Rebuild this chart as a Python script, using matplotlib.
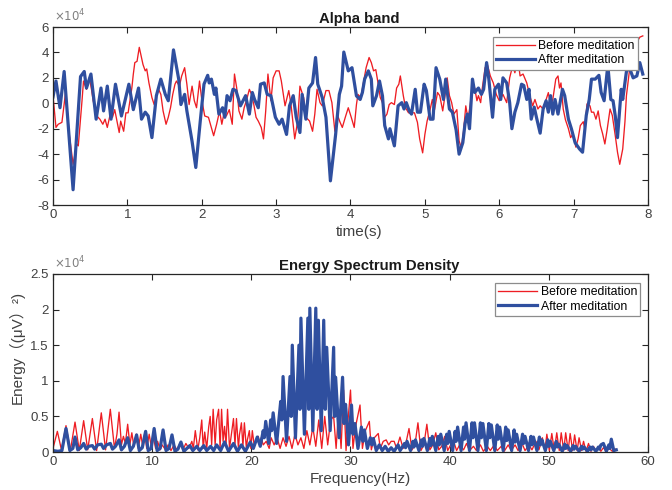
import matplotlib
matplotlib.use("Agg")
import matplotlib.pyplot as plt

plt.rcParams['font.family'] = ['Liberation Sans', 'Noto Sans CJK SC', 'DejaVu Sans']
plt.rcParams['axes.unicode_minus'] = False

# ---------------- data: Alpha band (values in units of 1e4) ----------------
t_before = [0.0, 0.04, 0.07, 0.12, 0.17, 0.22, 0.27, 0.32, 0.34, 0.39, 0.41, 0.45, 0.49, 0.52, 0.54,
            0.59, 0.63, 0.67, 0.70, 0.73, 0.77, 0.80, 0.83, 0.86, 0.89, 0.91, 0.95, 0.98, 1.01, 1.06,
            1.08, 1.10, 1.13, 1.16, 1.18, 1.21, 1.24, 1.26, 1.29, 1.33, 1.36, 1.39, 1.42, 1.45, 1.48,
            1.52, 1.55, 1.58, 1.61, 1.64, 1.66, 1.70, 1.73, 1.77, 1.80, 1.83, 1.87, 1.90, 1.93, 1.97,
            2.00, 2.04, 2.09, 2.16, 2.20, 2.24, 2.27, 2.30, 2.33, 2.37, 2.41, 2.44, 2.47, 2.50, 2.54,
            2.57, 2.60, 2.64, 2.67, 2.70, 2.73, 2.76, 2.80, 2.83, 2.86, 2.89, 2.93, 2.96, 3.00, 3.04,
            3.07, 3.12, 3.17, 3.20, 3.25, 3.29, 3.32, 3.37, 3.40, 3.45, 3.49, 3.52, 3.55, 3.59, 3.62,
            3.67, 3.71, 3.75, 3.79, 3.82, 3.86, 3.89, 3.93, 3.97, 4.01, 4.05, 4.08, 4.10, 4.14, 4.17,
            4.21, 4.25, 4.28, 4.31, 4.34, 4.37, 4.40, 4.43, 4.46, 4.49, 4.52, 4.55, 4.59, 4.62, 4.65,
            4.67, 4.71, 4.74, 4.78, 4.82, 4.86, 4.90, 4.93, 4.97, 5.00, 5.03, 5.07, 5.10, 5.13, 5.17,
            5.20, 5.24, 5.27, 5.30, 5.33, 5.36, 5.39, 5.43, 5.46, 5.49, 5.52, 5.55, 5.58, 5.61, 5.64,
            5.67, 5.70, 5.72, 5.75, 5.77, 5.81, 5.84, 5.88, 5.92, 5.96, 6.00, 6.05, 6.10, 6.14, 6.18,
            6.21, 6.25, 6.28, 6.32, 6.37, 6.41, 6.45, 6.48, 6.52, 6.55, 6.59, 6.63, 6.66, 6.69, 6.72,
            6.76, 6.79, 6.81, 6.83, 6.86, 6.89, 6.93, 6.96, 6.99, 7.03, 7.06, 7.09, 7.13, 7.15, 7.18,
            7.22, 7.24, 7.27, 7.30, 7.33, 7.36, 7.39, 7.42, 7.45, 7.49, 7.52, 7.56, 7.59, 7.62, 7.66,
            7.69, 7.71, 7.75, 7.80, 7.84, 7.89, 7.93]
v_before = [0.6, -1.9, -1.65, -1.5, 0.9, -2.5, -4.8, -3.2, -3.35, 0.2, 1.75, 1.1, 2.0, 1.0, 0.2,
            -1.0, -1.25, -1.65, -1.25, -1.9, -0.85, -1.1, -0.5, -1.4, -2.3, -1.4, -2.2, -0.75, -0.75, 1.2,
            2.3, 3.2, 3.3, 4.4, 3.85, 3.05, 2.55, 2.7, 1.6, 0.45, -0.1, 0.6, 1.1, 0.7, -0.6,
            -1.65, -1.1, -0.35, 0.7, 1.5, 1.75, 1.35, 2.15, 2.8, 1.5, -0.1, 1.35, 0.2, -0.35, 1.75,
            0.3, -1.0, -1.1, -2.55, -1.65, -0.6, -1.65, -0.75, -1.0, -0.5, -1.65, 2.3, 1.2, -0.6, -1.25,
            -0.35, 0.2, 1.1, 0.7, -0.1, -1.1, -1.4, -1.9, -2.8, -0.6, 2.3, 0.2, 2.0, 2.55, 2.55,
            1.75, -0.2, 1.0, -0.1, -2.8, -1.4, 1.35, 0.45, -1.1, -1.4, -2.2, -0.85, 1.1, 0.05, -0.2,
            1.0, 1.0, 0.05, -2.2, -0.85, -1.5, -1.9, -1.1, -0.35, -1.1, -1.9, -0.1, 0.7, 0.45, 1.5,
            2.8, 3.6, 3.2, 2.55, 2.65, 1.6, 0.45, 0.05, -1.1, -0.85, -0.1, 0.05, -0.1, 1.2, 1.5,
            2.15, 0.6, -0.35, -0.75, -0.75, -0.75, -1.5, -2.8, -3.9, -2.45, -1.4, -0.5, 0.3, -0.5, 0.85,
            0.6, -0.6, 0.6, 2.0, 0.6, 0.05, -0.85, -0.5, -2.95, -3.5, -2.2, -0.2, -1.25, -0.1, 1.5,
            1.2, 0.2, 0.6, 0.05, 1.1, 2.8, 3.05, 2.15, 1.6, 0.7, 0.2, 0.7, 0.05, 2.0, 2.95,
            2.4, 3.5, 2.15, 2.3, 1.6, 0.6, -0.2, 0.3, -0.45, -0.2, -0.45, 0.3, 0.84, -0.2, 0.3,
            1.9, 2.15, 1.2, 1.6, -0.45, -1.3, -2.0, -2.7, -2.4, -3.45, -2.8, -1.75, -1.45, -2.0, -0.05,
            -0.2, -0.7, -0.7, -1.25, -0.6, -1.75, -2.4, -3.2, -2.1, -0.45, -0.95, -2.55, -3.85, -4.8, -3.6,
            -1.45, 0.6, 2.55, 3.5, 4.7, 5.2, 5.3]

t_after = [0.0, 0.04, 0.094, 0.15, 0.27, 0.37, 0.42, 0.45, 0.51, 0.58, 0.645, 0.68, 0.73, 0.78, 0.84,
           0.92, 1.02, 1.08, 1.15, 1.19, 1.24, 1.28, 1.33, 1.39, 1.45, 1.51, 1.55, 1.62, 1.69, 1.72,
           1.77, 1.80, 1.87, 1.92, 1.98, 2.03, 2.08, 2.10, 2.13, 2.17, 2.19, 2.23, 2.28, 2.31, 2.34,
           2.38, 2.42, 2.46, 2.52, 2.59, 2.64, 2.68, 2.71, 2.76, 2.79, 2.84, 2.88, 2.93, 2.99, 3.04,
           3.08, 3.14, 3.18, 3.23, 3.27, 3.32, 3.35, 3.40, 3.44, 3.49, 3.53, 3.56, 3.62, 3.67, 3.73,
           3.80, 3.85, 3.88, 3.91, 3.97, 4.02, 4.08, 4.13, 4.16, 4.19, 4.24, 4.28, 4.30, 4.35, 4.39,
           4.43, 4.46, 4.51, 4.53, 4.59, 4.64, 4.69, 4.72, 4.75, 4.79, 4.82, 4.87, 4.90, 4.94, 4.99,
           5.02, 5.07, 5.11, 5.15, 5.20, 5.25, 5.28, 5.33, 5.37, 5.42, 5.46, 5.51, 5.54, 5.57, 5.60,
           5.64, 5.67, 5.72, 5.76, 5.79, 5.83, 5.86, 5.91, 5.94, 5.99, 6.02, 6.05, 6.10, 6.14, 6.17,
           6.21, 6.25, 6.30, 6.33, 6.37, 6.40, 6.43, 6.47, 6.50, 6.55, 6.59, 6.63, 6.66, 6.69, 6.72,
           6.75, 6.79, 6.85, 6.88, 6.93, 6.97, 7.02, 7.05, 7.08, 7.12, 7.17, 7.21, 7.24, 7.29, 7.34,
           7.37, 7.41, 7.46, 7.50, 7.53, 7.56, 7.59, 7.64, 7.66, 7.71, 7.75, 7.80, 7.85, 7.89, 7.93]
v_after = [0.5, 1.75, -0.35, 2.5, -6.8, 2.1, 2.5, 1.2, 2.3, -1.25, 1.2, -0.6, 1.35, -1.25, 1.5,
           -1.0, 1.5, -0.5, 1.2, -1.25, -0.7, -1.0, -2.7, 0.6, 1.9, 0.7, 0.2, 4.2, 1.9, -0.1,
           0.7, -0.6, -3.0, -5.05, -1.4, 1.5, 2.2, 1.6, 1.9, 0.7, 1.2, -0.85, -0.35, -1.1, 0.6,
           0.2, 1.1, 1.0, -0.2, 0.6, -0.85, 0.85, 0.3, -0.35, 1.5, 1.6, 0.7, 0.6, -1.1, -1.65,
           -1.25, -2.45, -0.2, 0.6, -1.1, -2.3, 0.7, -1.25, 1.2, 1.6, 3.6, 1.5, 0.45, -1.1, -6.1,
           -2.45, 0.7, 1.35, 4.03, 2.55, 2.8, 0.58, 0.3, 0.85, 1.9, 2.55, 1.9, -0.2, 0.6, 1.75,
           0.58, -1.75, -2.8, -2.0, -3.35, -0.2, 0.05, -0.45, 0.05, -0.6, -0.85, 1.1, -0.7, -0.7, 1.5,
           1.0, -1.25, -1.25, 2.8, 1.9, 0.3, 1.9, -0.45, -0.7, -2.1, -4.0, -3.1, -1.6, -0.85, -2.0,
           1.9, 0.85, 1.2, 0.7, 1.1, 3.2, 1.9, -1.1, 1.1, 1.5, 0.3, 2.0, 1.6, 0.05, -2.0,
           -0.7, 0.05, 1.5, 1.4, 0.3, 1.1, -1.25, -0.3, -1.1, -2.35, -0.45, 0.2, -0.7, 0.6, -0.85,
           0.3, -0.85, 1.1, 0.6, -1.25, -2.0, -3.1, -3.35, -3.6, -3.85, -0.95, 0.3, 1.9, 1.9, 2.2,
           0.85, 0.2, 3.0, 0.3, 0.2, -1.0, -2.7, 1.1, 0.3, 2.5, 2.8, 2.0, 2.15, 3.2, 2.3]

# ---------------- data: Energy Spectrum Density (values in units of 1e4) ----------------
f_before = [0.0, 0.44, 0.85, 1.31, 1.75, 2.22, 2.65, 3.09, 3.5, 3.97, 4.4, 4.87, 5.3, 5.78, 6.2,
            6.45, 6.66, 6.9, 7.1, 7.3, 7.53, 7.75, 7.95, 8.15, 8.4, 8.6, 8.85, 9.05, 9.25, 9.45,
            9.7, 9.9, 10.1, 10.35, 10.55, 10.8, 11.0, 11.4, 11.6, 11.9, 12.2, 12.5, 12.8, 13.1, 13.4,
            13.7, 14.0, 14.15, 14.35, 14.6, 14.8, 15.0, 15.15, 15.3, 15.5, 15.7, 15.85, 16.0, 16.15, 16.35,
            16.5, 16.7, 16.85, 17.0, 17.15, 17.3, 17.45, 17.6, 17.8, 18.0, 18.2, 18.35, 18.5, 18.7, 18.8,
            19.0, 19.15, 19.3, 19.5, 19.6, 19.8, 19.95, 20.1, 20.3, 20.45, 20.7, 20.85, 21.0, 21.2, 21.5,
            21.8, 22.0, 22.3, 22.6, 22.9, 23.2, 23.5, 23.8, 24.1, 24.4, 24.7, 25.0, 25.3, 25.6, 25.9,
            26.2, 26.5, 26.8, 27.1, 27.4, 27.7, 28.0, 28.3, 28.55, 28.8, 29.05, 29.3, 29.55, 29.75, 30.0,
            30.25, 30.5, 30.96, 31.2, 31.5, 31.9, 32.1, 32.4, 32.8, 33.0, 33.3, 33.6, 33.85, 34.1, 34.4,
            34.65, 34.99, 35.3, 35.55, 35.9, 36.2, 36.5, 36.8, 37.1, 37.4, 37.7, 38.0, 38.3, 38.6, 38.9,
            39.2, 39.5, 39.8, 40.1, 40.4, 40.7, 41.0, 41.4, 41.7, 42.0, 42.4, 42.7, 43.1, 43.4, 43.8,
            44.1, 44.5, 44.8, 45.2, 45.5, 45.9, 46.2, 46.6, 46.9, 47.3, 47.6, 48.0, 48.3, 48.7, 49.0,
            49.35, 49.6, 49.8, 50.05, 50.3, 50.55, 50.8, 51.05, 51.25, 51.5, 51.7, 51.95, 52.15, 52.4, 52.6,
            52.85, 53.05, 53.3, 53.5, 53.75, 54.0, 54.25, 54.5, 54.75, 55.0, 55.25, 55.5, 55.8, 56.1, 56.4,
            56.7]
e_before = [0.05, 0.29, 0.03, 0.37, 0.02, 0.42, 0.02, 0.44, 0.03, 0.47, 0.02, 0.55, 0.03, 0.6, 0.05,
            0.25, 0.56, 0.1, 0.22, 0.12, 0.39, 0.1, 0.27, 0.08, 0.25, 0.05, 0.25, 0.08, 0.26, 0.05,
            0.25, 0.08, 0.22, 0.05, 0.15, 0.03, 0.1, 0.02, 0.1, 0.02, 0.1, 0.03, 0.12, 0.03, 0.12,
            0.05, 0.15, 0.05, 0.3, 0.03, 0.2, 0.45, 0.05, 0.28, 0.05, 0.35, 0.5, 0.1, 0.6, 0.1,
            0.45, 0.6, 0.05, 0.6, 0.15, 0.36, 0.1, 0.6, 0.05, 0.26, 0.47, 0.1, 0.47, 0.05, 0.24,
            0.41, 0.08, 0.41, 0.05, 0.17, 0.3, 0.05, 0.3, 0.08, 0.15, 0.22, 0.1, 0.2, 0.1, 0.15,
            0.05, 0.2, 0.1, 0.2, 0.05, 0.2, 0.08, 0.22, 0.05, 0.25, 0.1, 0.2, 0.05, 0.3, 0.1,
            0.35, 0.08, 0.45, 0.05, 0.5, 0.1, 0.45, 0.5, 0.05, 0.6, 0.05, 0.87, 0.02, 0.45, 0.87,
            0.05, 0.35, 0.66, 0.05, 0.3, 0.43, 0.03, 0.2, 0.26, 0.05, 0.15, 0.17, 0.1, 0.15, 0.15,
            0.05, 0.21, 0.05, 0.1, 0.33, 0.03, 0.1, 0.41, 0.02, 0.1, 0.39, 0.03, 0.1, 0.27, 0.03,
            0.08, 0.22, 0.02, 0.1, 0.15, 0.02, 0.1, 0.03, 0.12, 0.02, 0.08, 0.02, 0.1, 0.01, 0.08,
            0.02, 0.1, 0.02, 0.08, 0.01, 0.1, 0.02, 0.1, 0.02, 0.12, 0.02, 0.1, 0.03, 0.15, 0.03,
            0.2, 0.02, 0.25, 0.02, 0.26, 0.02, 0.27, 0.02, 0.27, 0.02, 0.27, 0.02, 0.26, 0.02, 0.24,
            0.02, 0.2, 0.02, 0.15, 0.01, 0.12, 0.01, 0.08, 0.01, 0.07, 0.01, 0.06, 0.01, 0.05, 0.01,
            0.04]

f_after = [0.0, 0.5, 0.9, 1.31, 1.7, 2.0, 2.22, 2.5, 2.8, 3.09, 3.35, 3.6, 3.97, 4.2, 4.5,
           4.87, 5.1, 5.4, 5.78, 6.0, 6.3, 6.66, 6.9, 7.2, 7.53, 7.8, 8.1, 8.43, 8.7, 9.0,
           9.34, 9.6, 9.9, 10.2, 10.5, 10.8, 11.1, 11.4, 11.7, 12.0, 12.3, 12.6, 12.9, 13.2, 13.5,
           13.8, 14.1, 14.5, 14.8, 15.2, 15.5, 15.9, 16.2, 16.5, 16.9, 17.3, 17.7, 18.2, 18.6, 19.0,
           19.4, 19.9,
           20.2, 20.6, 20.9, 21.2, 21.3, 21.45, 21.75, 21.95, 22.05, 22.2, 22.55, 22.96, 23.08, 23.2, 23.55,
           23.9, 24.02, 24.13, 24.45, 24.8, 24.9, 25.0, 25.35, 25.7, 25.8, 25.9, 26.2, 26.5, 26.63, 26.76,
           27.05, 27.3, 27.45, 27.6, 27.95, 28.3, 28.4, 28.5, 28.85, 29.2, 29.35, 29.5, 29.8, 30.1, 30.25,
           30.45, 30.75, 31.1, 31.25, 31.4, 31.7, 32.0, 32.15, 32.3, 32.6, 32.9, 33.2, 33.5, 33.8, 34.1,
           34.4, 34.8, 35.0,
           35.45, 35.55, 35.7, 36.05, 36.3, 36.4, 36.55, 36.9, 37.15, 37.25, 37.4, 37.75,
           38.0, 38.1, 38.25, 38.6, 38.85, 38.95, 39.1, 39.45, 39.7, 39.8, 39.95, 40.3,
           40.55, 40.65, 40.8, 41.15, 41.4, 41.5, 41.65, 42.0, 42.25, 42.35, 42.5, 42.85,
           43.1, 43.2, 43.35, 43.7, 43.95, 44.05, 44.2, 44.55, 44.8, 44.9, 45.05, 45.4,
           45.65, 45.75, 45.9, 46.25, 46.5, 46.6, 46.75, 47.1, 47.35, 47.45, 47.6, 47.95,
           48.2, 48.3, 48.45, 48.8, 49.05, 49.15, 49.3, 49.65, 49.9, 50.0, 50.15, 50.5,
           50.75, 50.85, 51.0, 51.35, 51.6, 51.7, 51.85, 52.2, 52.45, 52.55, 52.7, 53.05,
           53.3, 53.4, 53.55, 53.9, 54.15, 54.25, 54.4, 54.75, 55.0, 55.1, 55.25, 55.5, 55.8,
           56.05, 56.15, 56.3, 56.55, 56.8]
e_after = [0.02, 0.01, 0.02, 0.33, 0.02, 0.05, 0.21, 0.03, 0.06, 0.12, 0.04, 0.08, 0.09, 0.04, 0.1,
           0.11, 0.05, 0.1, 0.12, 0.04, 0.08, 0.17, 0.03, 0.08, 0.2, 0.02, 0.08, 0.24, 0.02, 0.06,
           0.29, 0.02, 0.05, 0.33, 0.02, 0.05, 0.31, 0.02, 0.05, 0.24, 0.01, 0.04, 0.14, 0.01, 0.05,
           0.09, 0.02, 0.08, 0.02, 0.09, 0.02, 0.08, 0.02, 0.1, 0.02, 0.14, 0.01, 0.12, 0.01, 0.1,
           0.01, 0.14,
           0.05, 0.21, 0.08, 0.3, 0.2, 0.43, 0.12, 0.45, 0.3, 0.55, 0.12, 0.71, 0.45, 1.06, 0.15,
           1.06, 0.5, 1.5, 0.2, 1.5, 0.6, 1.88, 0.25, 1.88, 0.6, 2.02, 0.3, 2.02, 0.6, 1.85,
           0.3, 1.85, 0.6, 1.47, 0.3, 1.47, 0.5, 1.05, 0.2, 1.05, 0.4, 0.67, 0.1, 0.66, 0.25,
           0.4, 0.05, 0.35, 0.15, 0.31, 0.05, 0.2, 0.1, 0.19, 0.02, 0.1, 0.02, 0.08, 0.01, 0.06,
           0.01, 0.1, 0.02,
           0.12, 0.06, 0.15, 0.02, 0.15, 0.07, 0.17, 0.02, 0.17, 0.08, 0.19, 0.02,
           0.19, 0.09, 0.22, 0.02, 0.22, 0.1, 0.25, 0.02, 0.25, 0.12, 0.29, 0.02,
           0.29, 0.15, 0.35, 0.02, 0.35, 0.18, 0.41, 0.02, 0.41, 0.2, 0.41, 0.02,
           0.41, 0.2, 0.4, 0.02, 0.4, 0.2, 0.38, 0.02, 0.38, 0.18, 0.35, 0.02,
           0.35, 0.16, 0.31, 0.02, 0.31, 0.14, 0.25, 0.02, 0.25, 0.12, 0.22, 0.02,
           0.22, 0.1, 0.21, 0.02, 0.21, 0.1, 0.17, 0.02, 0.17, 0.08, 0.15, 0.02,
           0.15, 0.07, 0.11, 0.01, 0.11, 0.05, 0.09, 0.01, 0.09, 0.04, 0.08, 0.01,
           0.08, 0.04, 0.07, 0.01, 0.07, 0.03, 0.07, 0.01, 0.07, 0.04, 0.1, 0.12, 0.01,
           0.1, 0.05, 0.18, 0.02, 0.03]

top_yticks = [-8, -6, -4, -2, 0, 2, 4, 6]
top_xticks = [0, 1, 2, 3, 4, 5, 6, 7, 8]
bot_yticks = [0, 0.5, 1, 1.5, 2, 2.5]
bot_yticklabels = ['0', '0.5', '1', '1.5', '2', '2.5']
bot_xticks = [0, 10, 20, 30, 40, 50, 60]
labels = ['Before meditation', 'After meditation']

RED = '#ee1d23'
BLUE = '#2f4f9f'
SPINE = '#262626'
TICKC = '#404040'

fig = plt.figure(figsize=(6.72, 4.90), dpi=100)
ax1 = fig.add_axes([53/672, 1-205/490, 595/672, 178/490])
ax2 = fig.add_axes([53/672, 1-452/490, 595/672, 178/490])

def style(ax):
    for s in ax.spines.values():
        s.set_color(SPINE)
        s.set_linewidth(0.9)
    ax.tick_params(direction='in', top=True, right=True, length=4.5, width=0.8,
                   colors=SPINE, labelcolor=TICKC, labelsize=9.5, pad=3)

ax1.plot(t_before, v_before, color=RED, lw=0.95, label=labels[0])
ax1.plot(t_after, v_after, color=BLUE, lw=2.3, label=labels[1])
ax1.set_xlim(0, 8)
ax1.set_ylim(-8, 6)
ax1.set_xticks(top_xticks)
ax1.set_yticks(top_yticks)
style(ax1)
ax1.set_title('Alpha band', fontsize=10.7, fontweight='bold', color='#1a1a1a', pad=3, x=0.514)
ax1.set_xlabel('time(s)', fontsize=11, color=TICKC, labelpad=3)
ax1.xaxis.label.set_x(0.514)
ax1.text(0.002, 1.015, r'$\times10^{4}$', transform=ax1.transAxes, fontsize=8.5,
         color='#808080', ha='left', va='bottom')
leg1 = ax1.legend(loc='upper right', bbox_to_anchor=(0.983, 0.944), fontsize=8.8,
                  frameon=True, fancybox=False, edgecolor='#8c8c8c', framealpha=1,
                  handlelength=3.2, handletextpad=0.3, borderpad=0.25, labelspacing=0.2,
                  borderaxespad=0)
leg1.get_frame().set_linewidth(0.9)

ax2.plot(f_before, e_before, color=RED, lw=0.95, label=labels[0])
ax2.plot(f_after, e_after, color=BLUE, lw=2.3, label=labels[1])
ax2.set_xlim(0, 60)
ax2.set_ylim(0, 2.5)
ax2.set_xticks(bot_xticks)
ax2.set_yticks(bot_yticks)
ax2.set_yticklabels(bot_yticklabels)
style(ax2)
ax2.set_title('Energy Spectrum Density', fontsize=10.7, fontweight='bold', color='#1a1a1a', pad=3, x=0.531)
ax2.set_xlabel('Frequency(Hz)', fontsize=11, color=TICKC, labelpad=3)
ax2.xaxis.label.set_x(0.516)
ax2.set_ylabel('Energy（(μV）²)', fontsize=11, color=TICKC, labelpad=4)
ax2.yaxis.label.set_y(0.59)
ax2.text(0.002, 1.015, r'$\times10^{4}$', transform=ax2.transAxes, fontsize=8.5,
         color='#808080', ha='left', va='bottom')
leg2 = ax2.legend(loc='upper right', bbox_to_anchor=(0.987, 0.949), fontsize=8.8,
                  frameon=True, fancybox=False, edgecolor='#8c8c8c', framealpha=1,
                  handlelength=3.2, handletextpad=0.3, borderpad=0.25, labelspacing=0.2,
                  borderaxespad=0)
leg2.get_frame().set_linewidth(0.9)

fig.savefig('out.png', dpi=100)
